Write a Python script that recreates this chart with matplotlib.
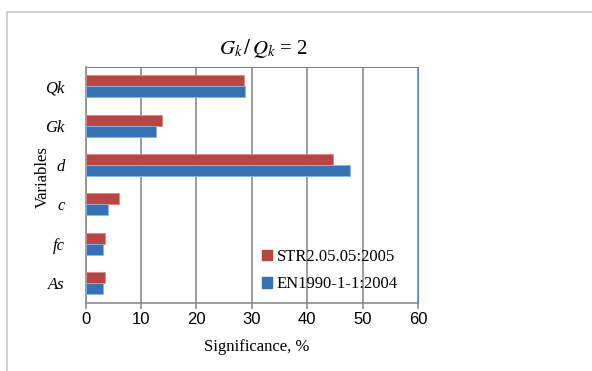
import matplotlib
matplotlib.use("Agg")
import matplotlib.pyplot as plt
from matplotlib.lines import Line2D
import numpy as np

# Categories listed bottom to top
variables = ["As", "fc", "c", "d", "Gk", "Qk"]
str_values = [3.4, 3.4, 6.0, 44.7, 13.7, 28.6]   # STR2.05.05:2005
en_values = [3.2, 3.2, 4.1, 47.8, 12.7, 28.8]    # EN1990-1-1:2004
series_labels = ["STR2.05.05:2005", "EN1990-1-1:2004"]
x_ticks = [0, 10, 20, 30, 40, 50, 60]

RED = "#B94441"
BLUE = "#3571B5"
GRID = "#8C8C8C"
FRAME_BLUE = "#5B8BD0"

W, H = 592, 371
fig = plt.figure(figsize=(W / 100, H / 100), dpi=100)

# outer chart frame (cut off at right and bottom)
fig.add_artist(Line2D([7 / W, 7 / W, 1.0], [0.0, 1 - 12 / H, 1 - 12 / H],
                      transform=fig.transFigure, color="#C8C8C8", lw=1.2))

left, right, top, bottom = 85.7, 418.0, 66.7, 302.7
ax = fig.add_axes([left / W, 1 - bottom / H, (right - left) / W, (bottom - top) / H])

y = np.arange(len(variables))
h = 0.28
ax.barh(y + h / 2, str_values, height=h, color=RED, edgecolor="#D88A88", linewidth=0.6, zorder=3)
ax.barh(y - h / 2, en_values, height=h, color=BLUE, edgecolor="#8FB3E0", linewidth=0.6, zorder=3)

ax.set_xlim(0, 60)
ax.set_ylim(-0.5, len(variables) - 0.5)
ax.set_xticks(x_ticks)
ax.set_xticklabels([str(t) for t in x_ticks], family="Liberation Sans", fontsize=12)
ax.set_yticks(y)
ax.set_yticklabels(variables, family="Liberation Serif", style="italic", fontsize=12)
ax.tick_params(axis="y", length=0, pad=15)
ax.tick_params(axis="x", length=4, width=1.2, color=GRID, pad=3)
ax.grid(axis="x", color=GRID, lw=1.2, zorder=1)

ax.spines["left"].set_color(GRID)
ax.spines["bottom"].set_color(GRID)
ax.spines["left"].set_linewidth(1.2)
ax.spines["bottom"].set_linewidth(1.2)
for side in ("top", "right"):
    ax.spines[side].set_color(FRAME_BLUE)
    ax.spines[side].set_zorder(4)

handles = [plt.Rectangle((0, 0), 1, 1, color=RED), plt.Rectangle((0, 0), 1, 1, color=BLUE)]
ax.legend(handles, series_labels, loc="lower left", bbox_to_anchor=(0.485, -0.02),
          frameon=False, handlelength=0.6, handleheight=0.6, handletextpad=0.3,
          labelspacing=0.7, prop={"family": "Liberation Serif", "size": 12})

fig.text(264 / W, 1 - 49 / H, r"$G_k\,/\,Q_k$ = 2", ha="center", va="center",
         family="Liberation Serif", fontsize=15, math_fontfamily="stix")
fig.text(257 / W, 1 - 347 / H, "Significance, %", ha="center", va="center",
         family="Liberation Serif", fontsize=12)
fig.text(43 / W, 1 - 177 / H, "Variables", ha="center", va="center", rotation=90,
         family="Liberation Serif", fontsize=12)

fig.savefig("out.png", dpi=100)
